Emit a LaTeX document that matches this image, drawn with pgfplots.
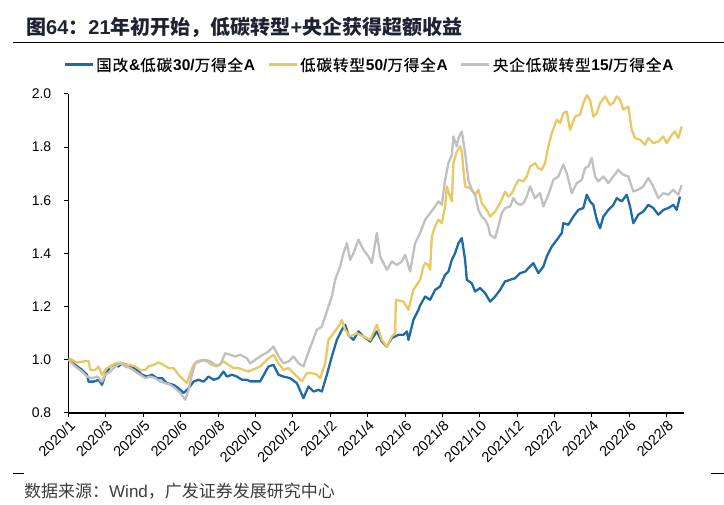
\documentclass[border=0pt]{standalone}
\usepackage{pgfplots}
\pgfplotsset{compat=1.18}
\usepackage{pgfplotstable}
\usepackage{fontspec}
\setmainfont{Liberation Sans}
\newfontfamily\cjk{Noto Sans CJK SC}
\newfontfamily\cjkm[FakeBold=0.5,LetterSpace=6]{Noto Sans CJK SC}
\newcommand{\C}[1]{{\cjk #1}}
\newcommand{\M}[1]{{\cjkm #1}}
\definecolor{cblue}{RGB}{31,106,165}
\definecolor{cyellow}{RGB}{233,200,100}
\definecolor{cgray}{RGB}{192,192,192}
\definecolor{ctitle}{RGB}{30,35,50}
\definecolor{csrc}{RGB}{60,60,60}

\pgfplotstableread{
x y
0.3 1.000
7 0.981
13.7 0.962
18.7 0.944
20.3 0.918
25.3 0.918
30.3 0.925
33.7 0.906
37 0.944
42 0.975
45.3 0.981
50.3 0.975
53.7 0.987
58.7 0.981
63.7 0.975
68.7 0.962
73.7 0.944
78.7 0.937
83.7 0.944
88.7 0.931
93.7 0.931
98.7 0.912
105.3 0.906
110.3 0.893
115.3 0.875
120.3 0.893
125.3 0.918
130.3 0.925
135.3 0.918
140.3 0.937
145.3 0.925
150.3 0.931
155.3 0.956
158.7 0.937
163.7 0.944
168.7 0.937
173.7 0.925
178.7 0.925
182 0.919
192 0.919
200.3 0.975
205.3 0.981
210.3 0.944
215.3 0.937
222 0.931
228.7 0.912
235.3 0.856
240.3 0.900
245.3 0.881
250.3 0.887
253.7 0.881
258.7 0.944
263.7 1.013
268.7 1.075
273.7 1.113
277 1.132
280.3 1.094
285.3 1.075
290.3 1.107
295.3 1.088
302 1.069
308.7 1.107
313.7 1.069
318.7 1.050
323.7 1.082
330.3 1.094
335.3 1.094
338.7 1.107
340.3 1.075
345.3 1.150
350.3 1.188
352 1.205
357 1.238
362 1.226
367 1.263
372 1.276
377 1.320
380.3 1.332
383.7 1.376
387 1.401
390.3 1.439
393.7 1.458
397 1.376
398.7 1.301
403.7 1.288
407 1.257
412 1.270
417 1.251
422 1.219
427 1.238
432 1.263
437 1.295
442 1.301
447 1.307
452 1.326
457 1.332
462 1.351
465.3 1.364
470.3 1.326
475.3 1.351
478.7 1.389
483.7 1.426
488.7 1.451
493.7 1.477
495.3 1.514
500.3 1.508
505.3 1.539
510.3 1.564
515.3 1.571
518.7 1.621
522 1.596
525.3 1.583
528.7 1.527
532 1.495
535.3 1.539
540.3 1.564
545.3 1.583
548.7 1.608
553.7 1.596
558.7 1.621
562 1.577
565.3 1.514
570.3 1.546
575.3 1.558
580.3 1.583
585.3 1.571
590.3 1.546
595.3 1.564
600.3 1.571
605.3 1.583
608.7 1.564
612 1.614
}\blueT

\pgfplotstableread{
x y
0.3 1.006
3.7 1.000
8.7 0.990
15.3 0.994
20.3 0.996
22 0.962
27 0.962
30.3 0.975
33.7 0.944
38.7 0.969
42 0.975
47 0.987
52 0.990
57 0.981
62 0.981
67 0.975
72 0.962
77 0.962
80.3 0.975
85.3 0.981
90.3 0.990
95.3 0.981
100.3 0.969
105.3 0.969
110.3 0.944
115.3 0.925
118.7 0.912
122 0.950
125.3 0.981
128.7 0.994
133.7 1.000
138.7 0.994
143.7 0.981
148.7 0.975
155.3 0.994
160.3 0.981
165.3 0.969
170.3 0.969
175.3 0.962
180.3 0.956
192 0.975
200.3 1.006
205.3 1.019
210.3 0.987
215.3 0.962
220.3 0.969
227 0.944
233.7 0.919
238.7 0.950
243.7 0.950
248.7 0.944
252 0.931
257 0.987
260.3 1.075
265.3 1.100
270.3 1.125
273.7 1.150
277 1.113
282 1.088
288.7 1.100
295.3 1.088
302 1.075
308.7 1.132
313.7 1.075
318.7 1.050
323.7 1.088
327 1.100
327.7 1.226
335.3 1.219
340.3 1.188
345.3 1.263
352 1.301
355.3 1.351
357 1.364
360.3 1.357
362 1.339
363.7 1.464
367 1.502
370.3 1.527
373.7 1.514
377 1.577
378.7 1.652
382 1.614
383.7 1.596
385.3 1.740
388.7 1.784
392 1.803
393.7 1.784
395.3 1.715
397 1.652
402 1.646
407 1.621
410.3 1.640
413.7 1.589
418.7 1.564
422 1.539
427 1.558
432 1.589
437 1.633
440.3 1.614
443.7 1.627
447 1.652
450.3 1.677
455.3 1.671
458.7 1.690
462 1.727
467 1.740
470.3 1.721
473.7 1.715
477 1.740
480.3 1.803
483.7 1.853
488.7 1.903
492 1.890
495.3 1.928
498.7 1.934
502 1.865
507 1.915
512 1.922
515.3 1.966
518.7 1.995
522 1.978
525.3 1.915
528.7 1.928
532 1.966
537 1.991
542 1.959
545.3 1.966
548.7 1.991
552 1.978
555.3 1.941
560.3 1.953
563.7 1.865
567 1.834
572 1.828
577 1.809
580.3 1.834
585.3 1.815
590.3 1.821
595.3 1.840
598.7 1.815
603.7 1.846
607 1.859
610.3 1.834
613.7 1.878
}\yellowT

\pgfplotstableread{
x y
0.3 1.000
7 0.975
13.7 0.956
18.7 0.937
23.7 0.931
28.7 0.937
33.7 0.918
37 0.944
42 0.956
47 0.975
52 0.987
57 0.975
62 0.969
67 0.956
72 0.944
77 0.931
82 0.937
87 0.931
92 0.918
97 0.912
102 0.906
107 0.893
112 0.875
117 0.850
120.3 0.887
123.7 0.944
127 0.987
132 0.994
137 1.000
142 0.994
147 0.981
152 0.981
157 1.025
162 1.019
167 1.013
172 1.019
178.7 1.006
182 0.987
192 1.013
200.3 1.031
205.3 1.050
210.3 1.013
215.3 0.987
220.3 0.994
225.3 1.013
230.3 0.987
235.3 0.975
238.7 1.013
243.7 1.063
248.7 1.113
253.7 1.125
260.3 1.201
263.7 1.238
267 1.301
272 1.351
275.3 1.401
278.7 1.439
282 1.376
285.3 1.401
290.3 1.452
295.3 1.414
300.3 1.389
303.7 1.364
308.7 1.477
312 1.389
315.3 1.364
318.7 1.339
323.7 1.370
328.7 1.357
333.7 1.370
337 1.395
342 1.332
347 1.439
352 1.477
357 1.527
362 1.552
367 1.577
370.3 1.596
373.7 1.583
377 1.677
380.3 1.740
383.7 1.771
385.3 1.840
388.7 1.803
390.3 1.834
393.7 1.859
397 1.778
400.3 1.677
403.7 1.640
407 1.621
410.3 1.564
413.7 1.539
417 1.527
420.3 1.502
422 1.470
427 1.458
430.3 1.502
433.7 1.552
437 1.571
442 1.577
445.3 1.608
448.7 1.589
452 1.583
455.3 1.589
458.7 1.614
462 1.652
467 1.608
472 1.627
475.3 1.577
480.3 1.621
485.3 1.677
490.3 1.690
495.3 1.734
498.7 1.702
503.7 1.627
508.7 1.665
513.7 1.677
517 1.721
520.3 1.727
523.7 1.759
527 1.690
530.3 1.671
535.3 1.690
540.3 1.665
545.3 1.690
550.3 1.715
555.3 1.696
560.3 1.690
565.3 1.633
570.3 1.640
575.3 1.652
580.3 1.684
585.3 1.652
590.3 1.608
595.3 1.627
600.3 1.621
605.3 1.640
610.3 1.621
613.7 1.658
}\grayT

\begin{document}
\begin{tikzpicture}
\begin{axis}[
  name=ax,
  scale only axis, width=615.7pt, height=319pt,
  xmin=0, xmax=616, ymin=0.8, ymax=2.0,
  axis x line*=bottom, axis y line*=left,
  axis line style={black, line width=1.1pt},
  xtick={0.3,37.7,75.1,112.5,149.9,187.3,224.7,262.1,299.5,336.9,374.3,411.7,449.1,486.5,523.9,561.3,598.7},
  xticklabels={2020/1,2020/3,2020/5,2020/6,2020/8,2020/10,2020/12,2021/2,2021/4,2021/6,2021/8,2021/10,2021/12,2022/2,2022/4,2022/6,2022/8},
  ytick={0.8,1.0,1.2,1.4,1.6,1.8,2.0},
  /pgf/number format/assume math mode=true,
  y tick label style={/pgf/number format/.cd, fixed, fixed zerofill, precision=1, /tikz/.cd, xshift=-9pt},
  tick align=outside, major tick length=4.5pt,
  tick style={black, line width=1pt},
  ticklabel style={font=\fontsize{14}{16}\selectfont},
  x tick label style={rotate=45, anchor=north east, inner sep=1pt, font=\fontsize{14.5}{16}\selectfont},
  clip=false,
  legend style={draw=none, fill=none, at={(0.489,1.091)}, anchor=center,
    legend columns=3, font=\fontsize{15.5}{17}\selectfont,
    /tikz/every even column/.append style={column sep=10pt}},
  legend cell align=left,
  legend image code/.code={\draw[#1, line width=3pt] (0pt,0pt) -- (28pt,0pt);},
]
\addplot[cblue, line width=2.3pt, line join=round] table[x=x,y=y] {\blueT};
\addlegendentry{\M{国改}\textbf{\&}\M{低碳}\textbf{30/}\M{万得全}\textbf{A}}
\addplot[cyellow, line width=2.3pt, line join=round] table[x=x,y=y] {\yellowT};
\addlegendentry{\M{低碳转型}\textbf{50/}\M{万得全}\textbf{A}}
\addplot[cgray, line width=2.3pt, line join=round] table[x=x,y=y] {\grayT};
\addlegendentry{\M{央企低碳转型}\textbf{15/}\M{万得全}\textbf{A}}
\end{axis}
\begin{scope}[shift={(-68.3pt,-92pt)}, x=1pt, y=1pt]
\path[use as bounding box] (0,0) rectangle (724,505);
\node[anchor=west, inner sep=0, text=ctitle] at (26,478) {\fontsize{20}{22}\selectfont\bfseries \C{图}64\C{：}21\C{年初开始，低碳转型}+\C{央企获得超额收益}};
\draw[line width=1.3pt] (13,462.7) -- (724,462.7);
\draw[line width=1pt] (13,31) -- (24,31);
\draw[line width=1pt] (711,31) -- (724,31);
\node[anchor=west, inner sep=0, text=csrc] at (24,14) {\fontsize{17}{19}\selectfont \C{数据来源：}Wind\C{，广发证券发展研究中心}};
\end{scope}
\end{tikzpicture}
\end{document}
